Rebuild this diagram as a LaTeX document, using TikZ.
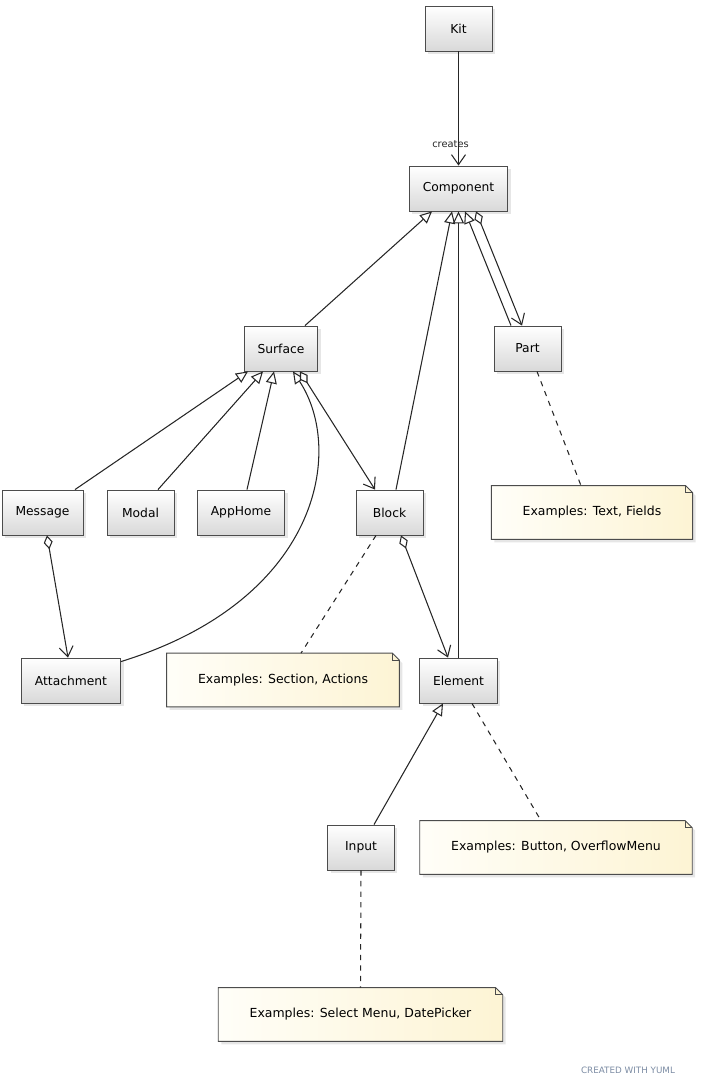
\documentclass[tikz,border=0pt]{standalone}
\usepackage{fontspec}
\setmainfont{DejaVu Sans}
\usepackage{xcolor}
\usepackage{tikz}
\usetikzlibrary{arrows.meta,shadows,backgrounds,calc}
\definecolor{notelight}{HTML}{FFFEF8}
\definecolor{notedark}{HTML}{FDF4D4}
\definecolor{credit}{HTML}{7B8BA3}
% yuml style note with folded corner, drawn under its text
\newcommand{\yumlnote}[3]{%
  \node[note] (#1) at (#2) {#3};
  \begin{scope}[on background layer]
    \path[notebg] (#1.south west) -- (#1.north west) -- ([xshift=-1.4mm]#1.north east)
      -- ([yshift=-1.4mm]#1.north east) -- (#1.south east) -- cycle;
    \draw[notefold] ([xshift=-1.4mm]#1.north east) |- ([yshift=-1.4mm]#1.north east);
  \end{scope}}

\begin{document}
\begin{tikzpicture}[x=0.02cm, y=-0.02cm,
  cls/.style={draw=black!70, line width=0.5pt, top color=white, bottom color=black!15,
              minimum width=1.34cm, minimum height=0.9cm, inner xsep=0.27cm,
              font=\fontsize{7}{8}\selectfont,
              drop shadow={shadow xshift=0.6mm, shadow yshift=-0.6mm, opacity=0.2}},
  note/.style={minimum height=1.06cm, inner xsep=0.62cm, font=\fontsize{7.1}{8}\selectfont},
  notebg/.style={draw=black!70, line width=0.5pt, left color=notelight, right color=notedark,
                 drop shadow={shadow xshift=0.6mm, shadow yshift=-0.6mm, opacity=0.2}},
  notefold/.style={black!70, line width=0.5pt},
  link/.style={line width=0.6pt, black!85},
  nav/.style={link, -{Straight Barb[length=2mm, width=2.8mm]}},
  isa/.style={link, -{Triangle[length=2.4mm, width=2.2mm, fill=white]}},
  agg/.style={link, {Diamond[length=2.8mm, width=1.8mm, fill=white]}-{Straight Barb[length=2mm, width=2.8mm]}},
  anno/.style={link, dashed},
]
\useasboundingbox (0,0) rectangle (700,1085);

% classes
\node[cls] (kit)  at (458.5,28.5)  {Kit};
\node[cls] (comp) at (458.5,188.5) {Component};
\node[cls] (surf) at (281,348.5)   {Surface};
\node[cls] (part) at (527.5,348.5) {Part};
\node[cls] (msg)  at (42.5,512.5)  {Message};
\node[cls] (modal) at (140.5,512.5) {Modal};
\node[cls] (home) at (241,512.5)   {AppHome};
\node[cls] (block) at (389.5,512.5) {Block};
\node[cls] (att)  at (71,680.5)    {Attachment};
\node[cls] (elem) at (458.5,680.5) {Element};
\node[cls] (input) at (361,847.5)  {Input};

% notes
\yumlnote{ntext}{592,512.5}{Examples: Text, Fields}
\yumlnote{nsect}{283,680}{Examples: Section, Actions}
\yumlnote{nbutton}{556,847.5}{Examples: Button, OverflowMenu}
\yumlnote{nselect}{360.5,1014.5}{Examples: Select Menu, DatePicker}

% Kit creates Component
\draw[nav] (kit) -- node[pos=0.81, xshift=-1.6mm, font=\fontsize{5.6}{6}\selectfont] {creates} (comp);

% subclasses of Component
\draw[isa] ([xshift=4.8mm]surf.north) -- ([xshift=-5.3mm]comp.south);
\draw[isa] ([xshift=1.3mm]block.north) -- ([xshift=-1.3mm]comp.south);
\draw[isa] (elem.north) -- (comp.south);
\draw[isa] ([xshift=-3.3mm]part.north) -- ([xshift=1.3mm]comp.south);
\draw[agg] ([xshift=3.5mm]comp.south) -- ([xshift=-1.1mm]part.north);

% subclasses of Surface
\draw[isa] ([xshift=6.5mm]msg.north) -- ([xshift=-6.6mm]surf.south);
\draw[isa] ([xshift=3.5mm]modal.north) -- ([xshift=-3.6mm]surf.south);
\draw[isa] ([xshift=1.2mm]home.north) -- ([xshift=-1.4mm]surf.south);
\draw[isa] ([yshift=-0.8mm]att.north east) .. controls (320,600) and (345,450) .. ([xshift=2.4mm]surf.south);
\draw[agg] ([xshift=3.8mm]surf.south) -- ([xshift=-2.9mm]block.north);

% parts
\draw[agg] ([xshift=0.9mm]msg.south) -- ([xshift=-0.6mm]att.north);
\draw[agg] ([xshift=2.3mm]block.south) -- ([xshift=-2.1mm]elem.north);
\draw[isa] ([xshift=2.6mm]input.north) -- ([xshift=-3.1mm]elem.south);

% notes links
\draw[anno] ([xshift=1.9mm]part.south) -- ([xshift=-2.2mm]ntext.north);
\draw[anno] ([xshift=-2.7mm]block.south) -- ([xshift=3.6mm]nsect.north);
\draw[anno] ([xshift=2.7mm]elem.south) -- ([xshift=-3mm]nbutton.north);
\draw[anno] (input.south) -- (nselect.north);

\node[font=\fontsize{5}{6}\selectfont, text=credit] (made) at (628,1070) {CREATED WITH YUML};
\end{tikzpicture}
\end{document}
